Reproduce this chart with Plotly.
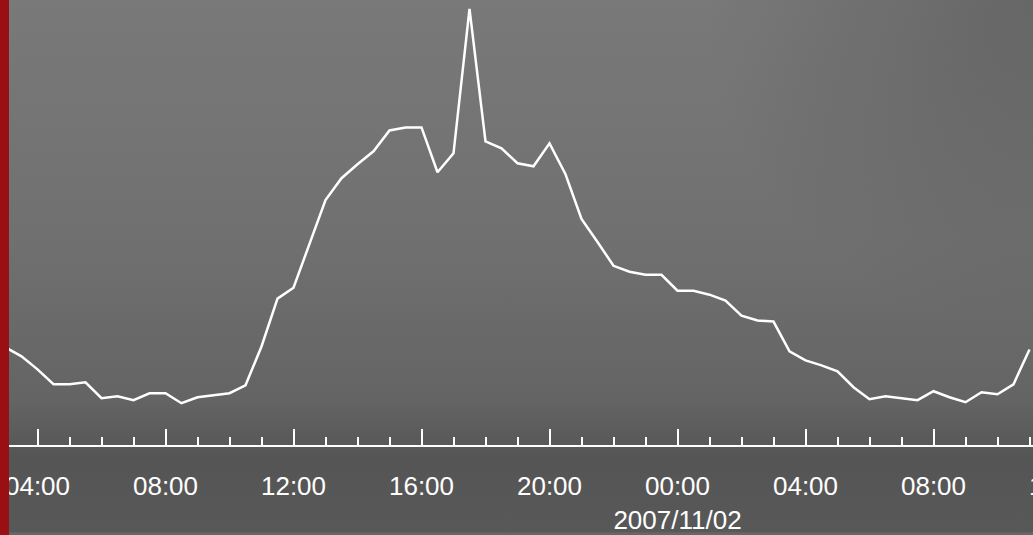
import base64
import datetime as dt
import plotly.graph_objects as go

# ---- data (half-hourly samples, 2007/11/01 03:00 -> 2007/11/02 11:00) ----
start_time = "2007-11-01 03:00"
step_minutes = 30
values = [98, 89, 76, 61, 61, 63, 47, 49, 45, 52, 52, 42, 48, 50, 52, 60,
          99, 147, 158, 202, 246, 268, 282, 295, 316, 319, 319, 274, 293, 438,
          305, 298, 283, 280, 303, 272, 227, 204, 180, 174, 171, 171, 155, 155,
          151, 145, 130, 125, 124, 94, 85, 80, 74, 58, 46, 49, 47, 45, 54, 48,
          43, 53, 51, 61, 96]

tick_vals = ["2007-11-01 04:00", "2007-11-01 08:00", "2007-11-01 12:00",
             "2007-11-01 16:00", "2007-11-01 20:00", "2007-11-02 00:00",
             "2007-11-02 04:00", "2007-11-02 08:00"]
tick_text = ["04:00", "08:00", "12:00", "16:00", "20:00",
             "00:00<br>2007/11/02", "04:00", "08:00"]
edge_label = "12:00"

# ---- build times ----
t0 = dt.datetime.strptime(start_time, "%Y-%m-%d %H:%M")
times = [t0 + dt.timedelta(minutes=step_minutes * i) for i in range(len(values))]

W, H = 1033, 535
BOTTOM = 88
PX_PER_HOUR = 32.0
ref = dt.datetime(2007, 11, 1, 4, 0)
ref_px = 37.5
x_start = ref + dt.timedelta(hours=(0 - ref_px) / PX_PER_HOUR)
x_end = ref + dt.timedelta(hours=(W - ref_px) / PX_PER_HOUR)

# ---- background gradient as an SVG image ----
svg = f"""<svg xmlns='http://www.w3.org/2000/svg' width='{W}' height='{H}' viewBox='0 0 {W} {H}' preserveAspectRatio='none'>
<defs>
<linearGradient id='g' x1='0' y1='0' x2='0' y2='1'>
<stop offset='0' stop-color='#797979'/>
<stop offset='0.45' stop-color='#707070'/>
<stop offset='0.75' stop-color='#646464'/>
<stop offset='0.86' stop-color='#555555'/>
<stop offset='1' stop-color='#585858'/>
</linearGradient>
<radialGradient id='r' cx='{W}' cy='0' r='330' gradientUnits='userSpaceOnUse'>
<stop offset='0' stop-color='#444444' stop-opacity='0.35'/>
<stop offset='1' stop-color='#444444' stop-opacity='0'/>
</radialGradient>
</defs>
<rect x='0' y='0' width='{W}' height='{H}' fill='url(#g)'/>
<rect x='0' y='0' width='{W}' height='{H}' fill='url(#r)'/>
</svg>"""
bg_src = "data:image/svg+xml;base64," + base64.b64encode(svg.encode()).decode()

plot_h = H - BOTTOM

fig = go.Figure()
fig.add_trace(go.Scatter(
    x=times, y=values, mode="lines",
    line=dict(color="white", width=2.5),
    hoverinfo="skip", showlegend=False,
))

fig.update_layout(
    width=W, height=H,
    margin=dict(l=0, r=0, t=0, b=BOTTOM, pad=0),
    paper_bgcolor="#666666",
    plot_bgcolor="rgba(0,0,0,0)",
    font=dict(family="Liberation Sans, Arial, sans-serif", color="white", size=26),
    images=[dict(source=bg_src, xref="paper", yref="paper", x=0, y=1,
                 sizex=1, sizey=H / plot_h, sizing="stretch",
                 xanchor="left", yanchor="top", layer="below")],
    shapes=[dict(type="rect", xref="paper", yref="paper",
                 x0=0, x1=9 / W, y0=-BOTTOM / plot_h - 0.01, y1=1.01,
                 fillcolor="#9a0f14", line=dict(width=0), layer="above")],
    annotations=[dict(text=edge_label, xref="paper", yref="paper",
                      x=(ref_px + PX_PER_HOUR * 32) / W, y=-41 / plot_h,
                      xanchor="center", yanchor="middle", showarrow=False,
                      font=dict(size=26, color="white"))],
)

fig.update_xaxes(
    type="date", range=[x_start, x_end],
    showgrid=False, zeroline=False,
    showline=True, linecolor="white", linewidth=2,
    tickmode="array", tickvals=tick_vals, ticktext=tick_text,
    ticks="inside", ticklen=16, tickwidth=2, tickcolor="white",
    tickfont=dict(size=26, color="white"),
    ticklabelstandoff=17,
    minor=dict(ticks="inside", ticklen=8, tickwidth=2, tickcolor="white",
               dtick=3600000, tick0="2007-11-01 00:00", showgrid=False),
)
fig.update_yaxes(visible=False, range=[0, plot_h], fixedrange=True)

fig.write_html("out.html", config={"displayModeBar": False},
               post_script="document.body.style.margin='0';document.body.style.overflow='hidden';")
